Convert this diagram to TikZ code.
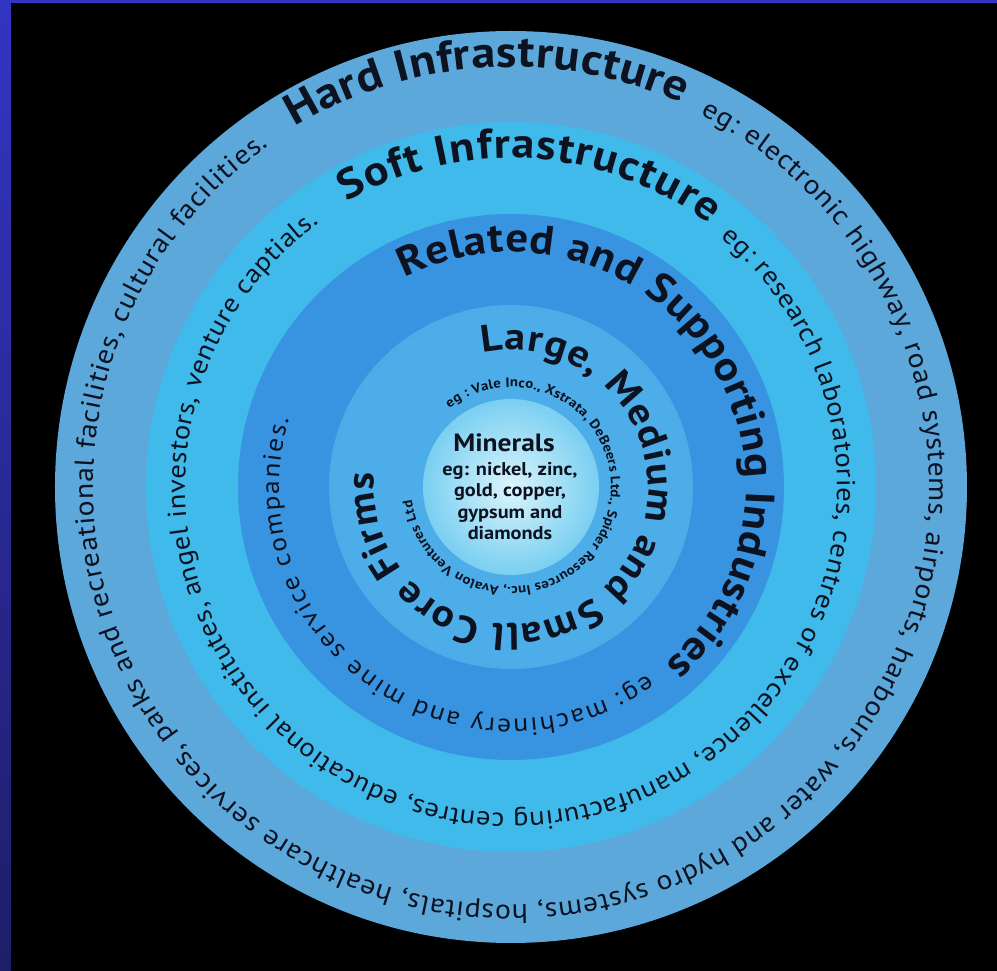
\documentclass[tikz,border=0pt]{standalone}
\usepackage{fontspec}
\setmainfont{PT Sans}
\newfontfamily\ringfont[FakeStretch=1.1]{PT Sans}
\usetikzlibrary{decorations.text}
\definecolor{ink}{RGB}{12,18,32}
\definecolor{striptop}{RGB}{52,52,196}
\definecolor{stripbottom}{RGB}{30,30,104}
\pgfdeclareradialshading{hardring}{\pgfpointorigin}{rgb(0bp)=(0.36,0.66,0.86); rgb(40bp)=(0.36,0.66,0.86); rgb(50bp)=(0.24,0.57,0.81)}
\pgfdeclareradialshading{softring}{\pgfpointorigin}{rgb(0bp)=(0.25,0.73,0.92); rgb(37bp)=(0.25,0.73,0.92); rgb(50bp)=(0.13,0.64,0.88)}
\pgfdeclareradialshading{relatedring}{\pgfpointorigin}{rgb(0bp)=(0.22,0.58,0.88); rgb(33bp)=(0.22,0.58,0.88); rgb(50bp)=(0.07,0.44,0.82)}
\pgfdeclareradialshading{firmring}{\pgfpointorigin}{rgb(0bp)=(0.30,0.68,0.91); rgb(24bp)=(0.30,0.68,0.91); rgb(50bp)=(0.10,0.52,0.86)}
\pgfdeclareradialshading{mineralcore}{\pgfpointorigin}{rgb(0bp)=(0.86,0.96,0.99); rgb(22bp)=(0.52,0.83,0.95); rgb(50bp)=(0.18,0.66,0.89)}

\begin{document}
\begin{tikzpicture}[x=1pt,y=1pt,
    ringtext/.style={decorate,decoration={text along path,text align=fit to path,text color=ink}},
    midtext/.style={text=ink,inner sep=0pt}]
    \useasboundingbox (-511,-484) rectangle (486,487);
    \fill[black] (-511,-484) rectangle (486,487);
    \shade[top color=striptop,bottom color=stripbottom] (-511,-484) rectangle (-500,487);
    \fill[striptop] (-511,484) rectangle (486,487);

    % the five discs
    \shade[shading=hardring] (0,0) circle[radius=456];
    \shade[shading=softring] (0,0) circle[radius=365];
    \shade[shading=relatedring] (0,0) circle[radius=273];
    \shade[shading=firmring] (0,0) circle[radius=182];
    \shade[shading=mineralcore] (0,0) circle[radius=88];

    % hard infrastructure
    \path[ringtext,decoration={text={|\ringfont\bfseries\fontsize{44}{44}\selectfont|Hard Infrastructure}}] (121:420) arc[start angle=121,end angle=66,radius=420];
    \path[ringtext,decoration={text={|\ringfont\fontsize{27}{27}\selectfont|eg: electronic highway, road systems, airports, harbours, water and hydro systems, hospitals, healthcare services, parks and recreational facilities, cultural facilities.}}] (63:418) arc[start angle=63,end angle=-234.5,radius=418];

    % soft infrastructure
    \path[ringtext,decoration={text={|\ringfont\bfseries\fontsize{42}{42}\selectfont|Soft Infrastructure}}] (120:329) arc[start angle=120,end angle=53,radius=329];
    \path[ringtext,decoration={text={|\ringfont\fontsize{26}{26}\selectfont|eg: research laboratories, centres of excellence, manufacturing centres, educational institutes, angel investors, venture captials.}}] (50:326) arc[start angle=50,end angle=-234,radius=326];

    % related and supporting
    \path[ringtext,decoration={text={|\ringfont\bfseries\fontsize{41}{41}\selectfont|Related and Supporting Industries}}] (117:235) arc[start angle=117,end angle=-49,radius=235];
    \path[ringtext,decoration={text={|\ringfont\fontsize{25}{25}\selectfont|eg: machinery and mine service companies.}}] (-54:232) arc[start angle=-54,end angle=-197,radius=232];

    % core firms
    \path[ringtext,decoration={text={|\ringfont\bfseries\fontsize{38}{38}\selectfont|Large, Medium and Small Core Firms}}] (102:137) arc[start angle=102,end angle=-186,radius=137];
    \path[ringtext,decoration={text={|\ringfont\bfseries\fontsize{13.5}{13.5}\selectfont|eg : Vale Inco., Xstrata, DeBeers Ltd., Spider Resources Inc., Avalon Ventures Ltd}}] (128:100) arc[start angle=128,end angle=-172.5,radius=100];

    % minerals
    \node[midtext,anchor=base,font=\ringfont\bfseries\fontsize{25}{25}\selectfont] (minerals) at (-7,35) {Minerals};
    \node[midtext,anchor=north,align=center,font=\ringfont\bfseries\fontsize{18.5}{21.5}\selectfont] (mineralseg) at (-1,25) {eg: nickel, zinc,\\gold, copper,\\gypsum and\\diamonds};
\end{tikzpicture}
\end{document}
